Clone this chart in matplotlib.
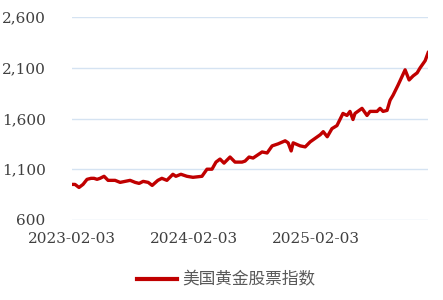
import matplotlib
matplotlib.use("Agg")
import matplotlib.pyplot as plt
import matplotlib.dates as mdates
import pandas as pd

# weekly readings of the index
dates = [
    "2023-02-03", "2023-02-12", "2023-02-24", "2023-03-08", "2023-03-20", "2023-04-01",
    "2023-04-10", "2023-04-19", "2023-04-28", "2023-05-10", "2023-05-22", "2023-06-12",
    "2023-06-27", "2023-07-12", "2023-07-27", "2023-08-11", "2023-08-23", "2023-09-04",
    "2023-09-19", "2023-10-01", "2023-10-18", "2023-10-30", "2023-11-14", "2023-12-02",
    "2023-12-11", "2023-12-26", "2024-01-13", "2024-01-31", "2024-02-27", "2024-03-13",
    "2024-03-28", "2024-04-09", "2024-04-21", "2024-05-03", "2024-05-21", "2024-06-05",
    "2024-06-26", "2024-07-05", "2024-07-17", "2024-07-29", "2024-08-25", "2024-09-09",
    "2024-09-24", "2024-10-12", "2024-11-02", "2024-11-11", "2024-11-20", "2024-11-26",
    "2024-12-17", "2025-01-01", "2025-01-16", "2025-02-15", "2025-02-24", "2025-03-08",
    "2025-03-22", "2025-04-06", "2025-04-24", "2025-05-06", "2025-05-15", "2025-05-24",
    "2025-05-30", "2025-06-20", "2025-07-05", "2025-07-14", "2025-08-04", "2025-08-13",
    "2025-08-22", "2025-09-03", "2025-09-12", "2025-09-21", "2025-10-06", "2025-10-27",
    "2025-11-08", "2025-11-20", "2025-12-02", "2025-12-11", "2025-12-26", "2026-01-04",
]
values = [
    950, 950, 920, 950, 1000, 1010,
    1010, 1000, 1010, 1030, 990, 990,
    970, 980, 990, 970, 960, 980,
    970, 940, 990, 1010, 990, 1050,
    1030, 1050, 1030, 1020, 1030, 1100,
    1100, 1170, 1200, 1160, 1220, 1170,
    1170, 1180, 1220, 1210, 1270, 1260,
    1330, 1350, 1380, 1360, 1280, 1360,
    1330, 1320, 1370, 1440, 1470, 1420,
    1500, 1530, 1650, 1630, 1670, 1590,
    1650, 1700, 1630, 1670, 1670, 1700,
    1670, 1680, 1780, 1830, 1930, 2080,
    1980, 2020, 2050, 2100, 2170, 2250,
]
series_name = "美国黄金股票指数"
x_ticks = ["2023-02-03", "2024-02-03", "2025-02-03"]
y_ticks = [600, 1100, 1600, 2100, 2600]

x = pd.to_datetime(dates)

fig = plt.figure(figsize=(4.43, 3.00), dpi=100)
ax = fig.add_axes([0.1625, 0.267, 0.804, 0.676])

ax.plot(x, values, color="#c00000", linewidth=2.4, label=series_name)

ax.set_ylim(600, 2600)
ax.set_yticks(y_ticks)
ax.set_yticklabels([f"{v:,}" for v in y_ticks])
ax.set_xlim(x[0], x[-1])
ax.set_xticks(pd.to_datetime(x_ticks))
ax.xaxis.set_major_formatter(mdates.DateFormatter("%Y-%m-%d"))

ax.grid(axis="y", color="#d5e3f2", linewidth=1)
ax.set_axisbelow(True)
for s in ax.spines.values():
    s.set_visible(False)
ax.tick_params(length=0, labelcolor="#404040", labelsize=11)
ax.tick_params(axis="y", pad=19)
ax.tick_params(axis="x", pad=9)
for lab in ax.get_xticklabels() + ax.get_yticklabels():
    lab.set_family("DejaVu Serif")

leg = fig.legend(loc="center", bbox_to_anchor=(0.51, 0.067), frameon=False,
                 handlelength=2.4, handletextpad=0.3,
                 prop={"family": ["Noto Sans CJK SC", "DejaVu Sans"], "size": 12})
for t in leg.get_texts():
    t.set_color("#595959")
leg.get_lines()[0].set_linewidth(3)

fig.savefig("out.png", dpi=100)
plt.close(fig)
